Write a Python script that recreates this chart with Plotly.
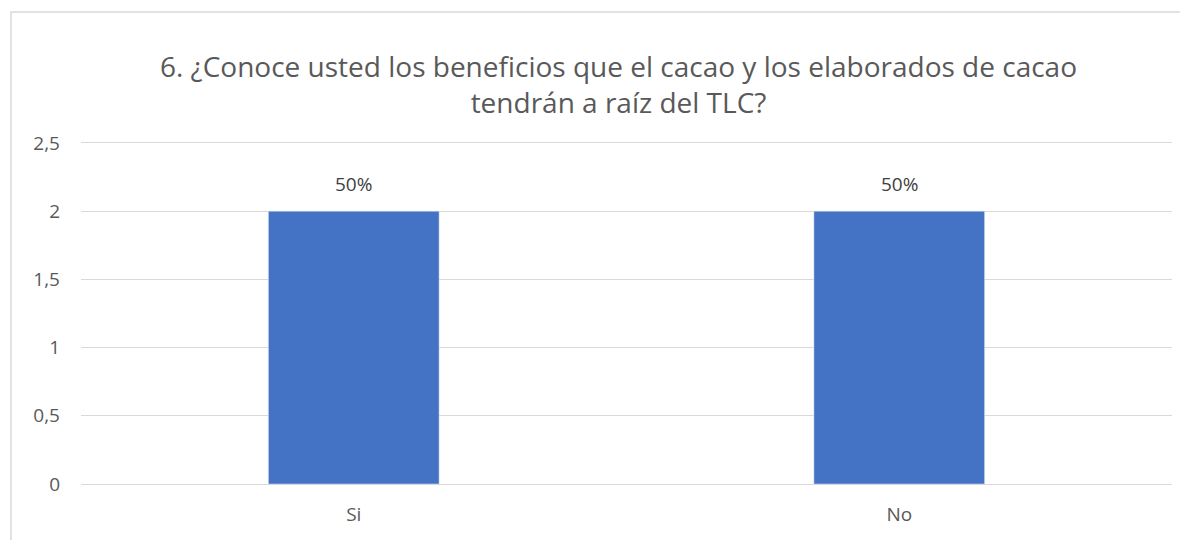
import plotly.graph_objects as go

categories = ["Si", "No"]
values = [2, 2]
labels = ["50%", "50%"]
y_ticks = [0, 0.5, 1, 1.5, 2, 2.5]

# page has an 8px body margin; work in figure coords
W, H = 1180, 532
L, R, T, B = 73, 16, 135, 56
pw, ph = W - L - R, H - T - B

fig = go.Figure(go.Bar(
    x=categories, y=values,
    marker_color="#4472C4",
))

for c, v, t in zip(categories, values, labels):
    fig.add_annotation(
        x=c, y=v, text=t, showarrow=False, yanchor="bottom", yshift=12,
        font=dict(size=19, color="#404040", family="Open Sans"),
    )

fig.update_layout(
    width=W, height=H,
    margin=dict(l=L, r=R, t=T, b=B, autoexpand=False),
    paper_bgcolor="white", plot_bgcolor="white",
    separators=",.",
    bargap=0.687,
    showlegend=False,
    font=dict(family="Open Sans", color="#595959", size=19),
    title=dict(
        text="6. ¿Conoce usted los beneficios que el cacao y los elaborados de cacao<br>tendrán a raíz del TLC?",
        x=610.5 / W, xref="container", xanchor="center",
        y=1 - 69 / H, yref="container", yanchor="middle",
        font=dict(size=28, color="#595959", family="Open Sans"),
    ),
    yaxis=dict(
        range=[0, 2.5], tickvals=y_ticks, showgrid=True, gridcolor="#D9D9D9",
        gridwidth=1, zeroline=True, zerolinecolor="#D9D9D9", zerolinewidth=1,
        showline=False, ticks="", ticklabelstandoff=20, automargin=False,
        tickfont=dict(size=19, color="#595959"),
    ),
    xaxis=dict(
        showline=True, linecolor="#D9D9D9", linewidth=1, mirror=True,
        ticks="", ticklabelstandoff=13, automargin=False,
        tickfont=dict(size=19, color="#595959"),
    ),
)

# chart border
fig.add_shape(
    type="rect", xref="paper", yref="paper",
    x0=(3 - L) / pw, x1=(W + 20 - L) / pw,
    y0=-(B + 40) / ph, y1=1 + (T - 4) / ph,
    line=dict(color="#D9D9D9", width=1.5), fillcolor="rgba(0,0,0,0)", layer="below",
)

fig.write_html("out.html")
